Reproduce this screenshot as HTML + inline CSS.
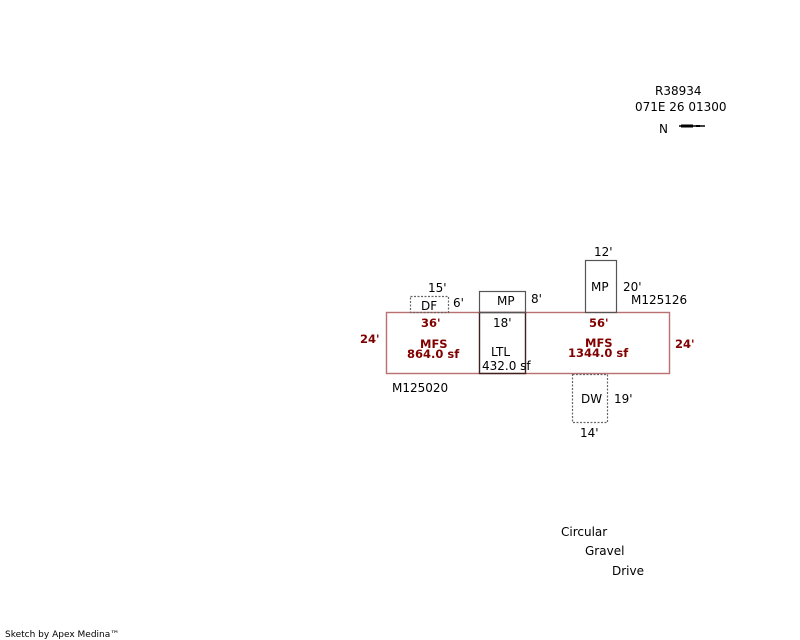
<!DOCTYPE html>
<html><head><meta charset="utf-8"><style>
html,body{margin:0;padding:0;background:#fff;}
svg{display:block;}
text{font-family:"DejaVu Sans","Liberation Sans",sans-serif;font-size:12px;fill:#000;}
.r{fill:#800000;font-weight:bold;font-size:11.5px;}
</style></head><body>
<svg width="800" height="640" viewBox="0 0 800 640" xmlns="http://www.w3.org/2000/svg">
<text x="655" y="95">R38934</text>
<text x="635" y="111">071E 26 01300</text>
<text x="659" y="133">N</text>
<path d="M679 126 L705 126" stroke="#000" stroke-width="1.5"/>
<path d="M681 124.5 L693 124.5 L693 127.5 L681 127.5Z" fill="#000"/>
<path d="M696 125 L700 125 L700 127 L696 127Z" fill="#000"/>
<rect x="386.5" y="312.5" width="283" height="61" fill="none" stroke="#b87070" stroke-width="1.4"/>
<rect x="479.5" y="312.5" width="46" height="61" fill="none" stroke="#402020" stroke-width="1.4"/>
<rect x="479.5" y="291.5" width="46" height="21" fill="none" stroke="#555" stroke-width="1.2"/>
<rect x="585.5" y="260.5" width="31" height="52" fill="none" stroke="#555" stroke-width="1.2"/>
<rect x="410.5" y="296.5" width="38" height="16" fill="none" stroke="#666" stroke-width="1.2" stroke-dasharray="2,1.5"/>
<rect x="572.5" y="374.5" width="35" height="48" fill="none" stroke="#666" stroke-width="1.2" stroke-dasharray="2,1.5"/>

<text x="428" y="292">15'</text>
<text x="453" y="307">6'</text>
<text x="421" y="310">DF</text>
<text x="497" y="305">MP</text>
<text x="531" y="303">8'</text>
<text x="594" y="256">12'</text>
<text x="591" y="291">MP</text>
<text x="623" y="291">20'</text>
<text x="631" y="304">M125126</text>
<text class="r" x="421" y="327">36'</text>
<text x="493" y="327">18'</text>
<text class="r" x="589" y="327">56'</text>
<text class="r" x="360" y="343">24'</text>
<text class="r" x="675" y="348">24'</text>
<text class="r" x="420" y="348">MFS</text>
<text class="r" x="407" y="358">864.0 sf</text>
<text x="491" y="356">LTL</text>
<text x="482" y="370">432.0 sf</text>
<text class="r" x="585" y="347">MFS</text>
<text class="r" x="568" y="357">1344.0 sf</text>
<text x="392" y="392">M125020</text>
<text x="581" y="403">DW</text>
<text x="614" y="403">19'</text>
<text x="580" y="437">14'</text>
<text x="561" y="536">Circular</text>
<text x="585" y="555">Gravel</text>
<text x="612" y="575">Drive</text>
<text x="5" y="637" style="font-size:9px">Sketch by Apex Medina™</text>
</svg>
</body></html>
